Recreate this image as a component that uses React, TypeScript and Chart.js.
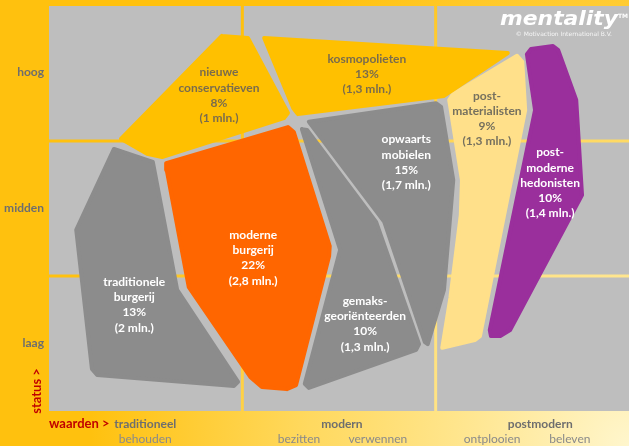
import React, { useEffect, useRef } from 'react';
import { Chart, registerables } from 'chart.js';

Chart.register(...registerables);

type P = [number, number];

// Axis categories (x: waarden, y: status), both on a 0-100 scale split in thirds
const valueBands = [0, 33.333, 66.667, 100];
const statusBands = [0, 33.333, 66.667, 100];
const statusLabels = ['laag', 'midden', 'hoog'];
const statusPositions = [16.67, 50.1, 83.7];
const valueLabels = ['traditioneel', 'modern', 'postmodern'];
const valuePositions = [16.6, 50.5, 84.7];
const valueSubLabels = ['behouden', 'bezitten', 'verwennen', 'ontplooien', 'beleven'];
const valueSubPositions = [16.6, 43.1, 56.7, 76.4, 89.8];

// Segment shapes (x = waarden 0-100, y = status 0-100)
const nieuweConservatieven: P[] = [
  [29.8, 92.6], [34.3, 92.1], [41.2, 73.6], [40.5, 72.3], [19.5, 62.7], [16.9, 63.5], [12.4, 67.2],
];
const kosmopolieten: P[] = [
  [37.1, 92.1], [79.1, 88.4], [68.1, 77.8], [42.9, 73.3], [42.1, 74.8],
];
const traditioneleBurgerij: P[] = [
  [11.2, 64.7], [17.9, 61.5], [22.1, 29.9], [32.6, 7.2], [31.9, 6.2], [8.3, 8.9], [7.4, 10.4], [4.7, 44.7],
];
const moderneBurgerij: P[] = [
  [20.2, 61.2], [41.2, 70.1], [42.2, 68.9], [48.4, 40.7], [48.3, 38.3], [42.6, 6.4], [41.0, 5.4],
  [36.7, 5.9], [34.7, 8.4], [24.1, 30.6], [20.3, 59.5],
];
const gemaksGeorienteerden: P[] = [
  [43.6, 69.6], [44.5, 69.4], [56.4, 46.7], [63.8, 16.5], [63.3, 15.1], [44.8, 5.7], [44.1, 6.7], [50.2, 39.8],
];
const opwaartsMobielen: P[] = [
  [44.8, 71.4], [66.7, 76.0], [67.6, 75.1], [69.7, 57.0], [68.1, 29.9], [65.3, 16.5], [64.8, 17.0], [57.8, 46.7],
];
const postMaterialisten: P[] = [
  [69.7, 78.3], [80.7, 87.7], [81.6, 86.2], [82.1, 74.3], [78.3, 47.2], [74.3, 18.5], [73.4, 17.5],
  [67.8, 15.6], [69.2, 27.9], [71.0, 48.4], [71.2, 57.0], [69.0, 76.8],
];
const postmoderneHedonisten: P[] = [
  [82.4, 88.1], [83.1, 89.4], [86.9, 90.1], [87.8, 89.1], [90.9, 76.8], [91.9, 53.3], [79.5, 20.0],
  [77.8, 18.5], [76.2, 18.5], [76.0, 20.0], [83.8, 74.3],
];

const segmentShapes: P[][] = [
  nieuweConservatieven, kosmopolieten, traditioneleBurgerij, moderneBurgerij,
  gemaksGeorienteerden, opwaartsMobielen, postMaterialisten, postmoderneHedonisten,
];
const segmentNames: string[][] = [
  ['nieuwe', 'conservatieven'],
  ['kosmopolieten'],
  ['traditionele', 'burgerij'],
  ['moderne', 'burgerij'],
  ['gemaks-', 'georiënteerden'],
  ['opwaarts', 'mobielen'],
  ['post-', 'materialisten'],
  ['post-', 'moderne', 'hedonisten'],
];
const segmentShares = [8, 13, 13, 22, 10, 15, 9, 10];
const segmentMillions = ['1', '1,3', '2', '2,8', '1,3', '1,7', '1,3', '1,4'];
const labelX = [29.3, 54.8, 14.7, 35.2, 54.5, 61.6, 75.5, 86.4];
const labelY = [77.9, 83.2, 26.2, 37.8, 21.5, 61.4, 72.2, 56.3];

// Styles
const segmentColors = ['#FFC000', '#FFC000', '#8C8C8C', '#FF6600', '#8C8C8C', '#8C8C8C', '#FFE08A', '#9A2F9C'];
const segmentTextColors = ['#7a6c4c', '#7a6c4c', '#ffffff', '#ffffff', '#ffffff', '#ffffff', '#75705e', '#ffffff'];

const FONT = 'Lato, "Open Sans", sans-serif';

const backgroundPlugin = {
  id: 'mentalityBackground',
  beforeDraw(chart: any) {
    const { ctx, width, height, scales } = chart;
    const xs = scales.x;
    const ys = scales.y;
    ctx.save();
    ctx.fillStyle = '#FFC10E';
    ctx.fillRect(0, 0, width, height);
    const g = ctx.createRadialGradient(width, height, 0, width, height, 540);
    g.addColorStop(0, 'rgba(255,246,205,1)');
    g.addColorStop(0.6, 'rgba(255,236,160,0.55)');
    g.addColorStop(1, 'rgba(255,236,160,0)');
    ctx.fillStyle = g;
    ctx.fillRect(0, 0, width, height);
    ctx.fillStyle = '#BEBEBE';
    const gap = 1.5;
    for (let i = 0; i < 3; i++) {
      for (let j = 0; j < 3; j++) {
        let x0 = xs.getPixelForValue(valueBands[i]);
        let x1 = xs.getPixelForValue(valueBands[i + 1]);
        let y0 = ys.getPixelForValue(statusBands[j + 1]);
        let y1 = ys.getPixelForValue(statusBands[j]);
        if (i > 0) x0 += gap;
        if (i < 2) x1 -= gap;
        if (j < 2) y0 += gap;
        if (j > 0) y1 -= gap;
        ctx.fillRect(x0, y0, x1 - x0, y1 - y0);
      }
    }
    ctx.restore();
  },
};

const labelPlugin = {
  id: 'mentalityLabels',
  afterDatasetsDraw(chart: any) {
    const { ctx, scales, chartArea } = chart;
    const xs = scales.x;
    const ys = scales.y;
    ctx.save();
    ctx.textAlign = 'center';
    ctx.textBaseline = 'middle';
    ctx.font = `bold 12px ${FONT}`;
    segmentNames.forEach((name, i) => {
      const lines = [...name, `${segmentShares[i]}%`, `(${segmentMillions[i]} mln.)`];
      const cx = xs.getPixelForValue(labelX[i]);
      const cy = ys.getPixelForValue(labelY[i]);
      const lh = 15.3;
      ctx.fillStyle = segmentTextColors[i];
      lines.forEach((t, k) => {
        ctx.fillText(t, cx, cy + (k - (lines.length - 1) / 2) * lh);
      });
    });

    // status axis
    ctx.textAlign = 'right';
    ctx.fillStyle = '#6e6e6e';
    ctx.font = `bold 12px ${FONT}`;
    statusLabels.forEach((t, i) => {
      ctx.fillText(t, chartArea.left - 5, ys.getPixelForValue(statusPositions[i]));
    });
    ctx.save();
    ctx.translate(chartArea.left - 12, chartArea.bottom - 20);
    ctx.rotate(-Math.PI / 2);
    ctx.textAlign = 'center';
    ctx.fillStyle = '#C00000';
    ctx.font = `bold 13px ${FONT}`;
    ctx.fillText('status >', 0, 0);
    ctx.restore();

    // values axis
    const yTop = chartArea.bottom + 13;
    const yBot = chartArea.bottom + 28;
    ctx.textAlign = 'left';
    ctx.fillStyle = '#C00000';
    ctx.font = `bold 13px ${FONT}`;
    ctx.fillText('waarden >', chartArea.left, yTop);
    ctx.font = `bold 12px ${FONT}`;
    ctx.textAlign = 'center';
    ctx.fillStyle = '#6e6e6e';
    valueLabels.forEach((t, i) => ctx.fillText(t, xs.getPixelForValue(valuePositions[i]), yTop));
    ctx.font = `12px ${FONT}`;
    ctx.fillStyle = '#8a8a8a';
    valueSubLabels.forEach((t, i) => ctx.fillText(t, xs.getPixelForValue(valueSubPositions[i]), yBot));

    // logo
    ctx.save();
    ctx.translate(chartArea.right - 11, chartArea.top + 14);
    ctx.scale(1.15, 1);
    ctx.textAlign = 'right';
    ctx.fillStyle = '#ffffff';
    ctx.font = `italic bold 19px "DejaVu Sans", sans-serif`;
    ctx.fillText('mentality', 0, 0);
    ctx.restore();
    ctx.textAlign = 'right';
    ctx.fillStyle = '#ffffff';
    ctx.font = `bold 6px "DejaVu Sans", sans-serif`;
    ctx.fillText('TM', chartArea.right - 1, chartArea.top + 10);
    ctx.font = `6px "DejaVu Sans", sans-serif`;
    ctx.fillStyle = 'rgba(255,255,255,0.85)';
    ctx.fillText('© Motivaction International B.V.', chartArea.right - 17, chartArea.top + 28);
    ctx.restore();
  },
};

export default function App() {
  const ref = useRef<HTMLCanvasElement | null>(null);
  useEffect(() => {
    if (!ref.current) return;
    const datasets = segmentShapes.map((shape, i) => {
      const pts = [...shape, shape[0]].map(([x, y]) => ({ x, y }));
      return {
        label: segmentNames[i].join(''),
        data: pts,
        showLine: true,
        fill: 'shape',
        backgroundColor: segmentColors[i],
        borderColor: segmentColors[i],
        borderWidth: 4,
        borderJoinStyle: 'round',
        borderCapStyle: 'round',
        pointRadius: 0,
        tension: 0,
      };
    });
    const chart = new Chart(ref.current, {
      type: 'scatter',
      data: { datasets: datasets as any },
      options: {
        animation: false,
        responsive: false,
        events: [],
        layout: { padding: { left: 49, top: 6, right: 0, bottom: 35 } },
        scales: {
          x: { type: 'linear', min: 0, max: 100, display: false },
          y: { type: 'linear', min: 0, max: 100, display: false },
        },
        plugins: { legend: { display: false }, tooltip: { enabled: false } },
      },
      plugins: [backgroundPlugin, labelPlugin],
    });
    return () => chart.destroy();
  }, []);
  return (
    <div style={{ position: 'fixed', left: 0, top: 0, width: 629, height: 446 }}>
      <canvas ref={ref} width={629} height={446} style={{ width: 629, height: 446, display: 'block' }} />
    </div>
  );
}
